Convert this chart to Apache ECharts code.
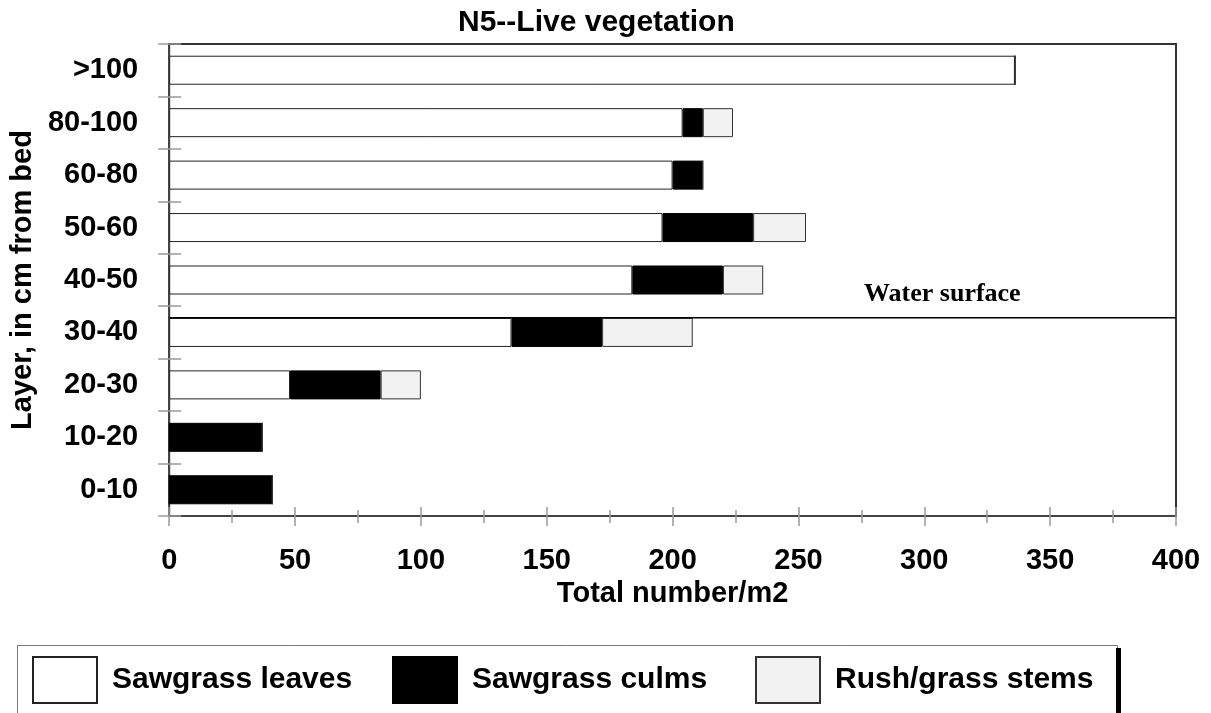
<!DOCTYPE html>
<html>
<head>
<meta charset="utf-8">
<title>N5--Live vegetation</title>
<script src="https://cdn.jsdelivr.net/npm/echarts@6/dist/echarts.min.js"></script>
<style>
  html, body { margin: 0; padding: 0; background: #fff; }
  #chart { width: 1211px; height: 713px; }
</style>
</head>
<body>
<div id="chart"></div>
<script>
// Layers, listed from the bed upward
const layers = ['0-10', '10-20', '20-30', '30-40', '40-50', '50-60', '60-80', '80-100', '>100'];

// Counts per square metre for each layer
const sawgrassLeaves = [0, 0, 48, 136, 184, 196, 200, 204, 336];
const sawgrassCulms  = [41, 37, 36, 36, 36, 36, 12, 8, 0];
const rushGrassStems = [0, 0, 16, 36, 16, 21, 0, 12, 0];

const seriesNames = ['Sawgrass leaves', 'Sawgrass culms', 'Rush/grass stems'];

// Value axis range and label step
const xRange = [0, 400];
const xStep = 50;

// Water surface height, in layer bands counted from the bed
const waterSurfaceLevel = 3.78;

const sans = '"Liberation Sans", Arial, Helvetica, sans-serif';
const serif = '"Liberation Serif", "Times New Roman", serif';

const chart = echarts.init(document.getElementById('chart'), null, { renderer: 'canvas' });

const boldText = (size) => ({ fontFamily: sans, fontWeight: 'bold', fontSize: size, color: '#000' });
const tickGray = { color: '#999', width: 1.5 };

const barSeries = (name, values, fill, border) => ({
  name: name,
  type: 'bar',
  stack: 'layer',
  barWidth: 29,
  data: values,
  itemStyle: { color: fill, borderColor: border, borderWidth: 1 },
  silent: true
});

// One legend entry per slot so the entries sit on an even pitch
const legendSlots = [32, 392, 755];
const legends = seriesNames.map((name, i) => ({
  data: [name],
  left: legendSlots[i],
  top: 656,
  padding: 0,
  icon: 'rect',
  itemWidth: 64,
  itemHeight: 46,
  selectedMode: false,
  textStyle: Object.assign(boldText(30), { padding: [0, 0, 0, 10] })
}));

chart.setOption({
  animation: false,
  backgroundColor: '#fff',
  title: {
    text: 'N5--Live vegetation',
    left: 458,
    top: 8,
    padding: 0,
    textStyle: boldText(30)
  },
  grid: {
    left: 168, right: 35, top: 44, bottom: 197,
    show: true, borderColor: '#333', borderWidth: 2, backgroundColor: 'transparent'
  },
  legend: legends,
  xAxis: [
    {
      type: 'value',
      position: 'bottom',
      min: xRange[0], max: xRange[1], interval: xStep,
      axisLine: { show: true, lineStyle: { color: '#444', width: 2 } },
      axisTick: { show: true, length: 10, lineStyle: tickGray },
      minorTick: { show: true, splitNumber: 2, length: 7, lineStyle: tickGray },
      splitLine: { show: false },
      minorSplitLine: { show: false },
      axisLabel: Object.assign(boldText(29), { margin: 30 }),
      name: 'Total number/m2',
      nameLocation: 'middle',
      nameGap: 62,
      nameTextStyle: boldText(29)
    },
    {
      // inner half of the crossing ticks
      type: 'value',
      position: 'bottom',
      min: xRange[0], max: xRange[1], interval: xStep,
      axisLine: { show: false },
      axisTick: { show: true, inside: true, length: 9, lineStyle: tickGray },
      minorTick: { show: true, splitNumber: 2, length: 6, lineStyle: tickGray },
      splitLine: { show: false },
      axisLabel: { show: false }
    }
  ],
  yAxis: [
    {
      type: 'category',
      position: 'left',
      data: layers,
      axisLine: { show: true, lineStyle: { color: '#444', width: 2 } },
      axisTick: { show: true, length: 11, lineStyle: tickGray },
      axisLabel: Object.assign(boldText(29), { margin: 31 }),
      name: 'Layer, in cm from bed',
      nameLocation: 'middle',
      nameRotate: 90,
      nameGap: 129,
      nameTextStyle: boldText(29)
    },
    {
      // inner half of the crossing ticks
      type: 'category',
      position: 'left',
      data: layers,
      axisLine: { show: false },
      axisTick: { show: true, inside: true, length: 12, lineStyle: tickGray },
      axisLabel: { show: false }
    },
    {
      // layer-band scale used for the water surface line
      type: 'value',
      position: 'right',
      min: 0, max: layers.length,
      show: false
    }
  ],
  series: [
    barSeries(seriesNames[0], sawgrassLeaves, '#ffffff', '#222'),
    barSeries(seriesNames[1], sawgrassCulms, '#000000', '#000'),
    barSeries(seriesNames[2], rushGrassStems, '#f2f2f2', '#333'),
    {
      name: 'Water surface',
      type: 'line',
      xAxisIndex: 0,
      yAxisIndex: 2,
      data: [[xRange[0], waterSurfaceLevel], [xRange[1], waterSurfaceLevel]],
      symbol: 'none',
      lineStyle: { color: '#000', width: 1.5 },
      silent: true,
      z: 5
    }
  ],
  graphic: [
    {
      type: 'text',
      left: 864,
      top: 281,
      style: { text: 'Water surface', font: 'bold 26px ' + serif, fill: '#000' }
    },
    {
      // legend frame
      type: 'rect',
      left: 15,
      top: 643,
      shape: { width: 1100, height: 68 },
      style: { fill: 'none', stroke: '#777', lineWidth: 1 },
      silent: true,
      z: -1
    },
    {
      // dark drop edge on the right of the legend frame
      type: 'rect',
      left: 1116,
      top: 648,
      shape: { width: 5, height: 70 },
      style: { fill: '#000' },
      silent: true
    }
  ]
});
</script>
</body>
</html>
